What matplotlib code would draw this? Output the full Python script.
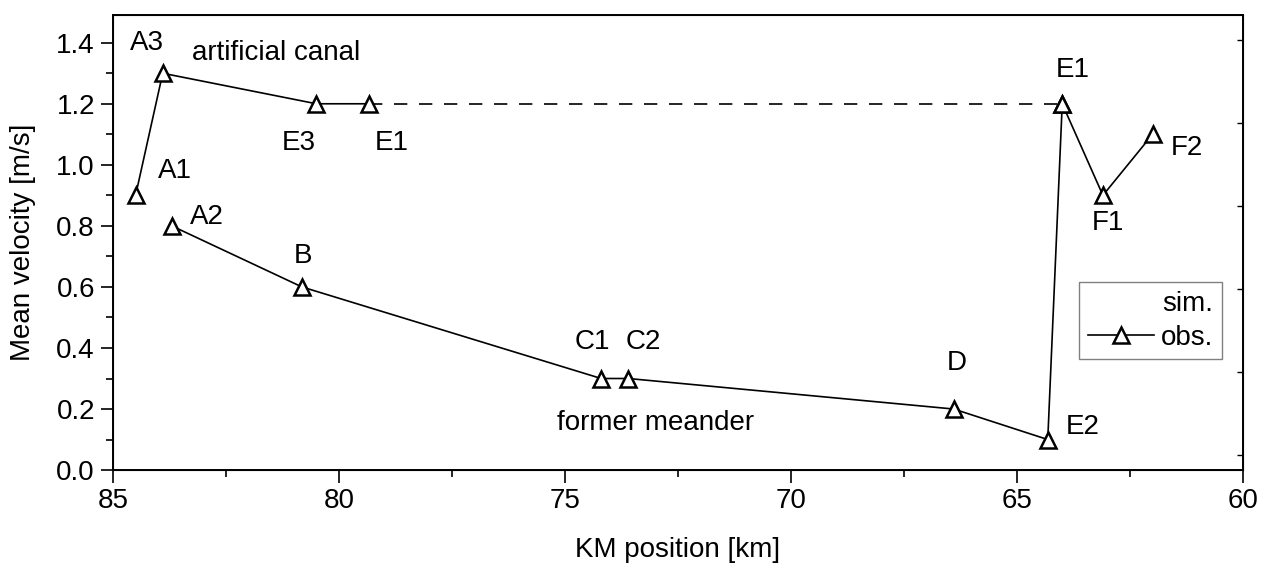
import matplotlib
matplotlib.use("Agg")
import matplotlib.pyplot as plt
from matplotlib.lines import Line2D

plt.rcParams["font.family"] = ["Liberation Sans", "DejaVu Sans"]

# observed stations: upper branch (artificial canal) and lower branch (former meander)
canal_km = [84.5, 83.9, 80.5, 79.33]
canal_v = [0.9, 1.3, 1.2, 1.2]
link_km = [79.33, 64.0]
link_v = [1.2, 1.2]
tail_km = [64.0, 63.1, 62.0]
tail_v = [1.2, 0.9, 1.1]
meander_km = [83.7, 80.82, 74.2, 73.6, 66.4, 64.32, 64.0]
meander_v = [0.8, 0.6, 0.3, 0.3, 0.2, 0.1, 1.2]

station_names = ["A3", "A1", "A2", "B", "E3", "E1", "C1", "C2", "D", "E2", "E1", "F1", "F2"]
station_label_km = [84.25, 83.63, 82.92, 80.8, 80.9, 78.83, 74.4, 73.27, 66.33, 63.54, 63.76, 62.99, 61.24]
station_label_v = [1.40, 0.98, 0.83, 0.70, 1.07, 1.07, 0.42, 0.42, 0.35, 0.14, 1.31, 0.81, 1.055]

x_ticks = [85, 80, 75, 70, 65, 60]
y_ticks = [0.0, 0.2, 0.4, 0.6, 0.8, 1.0, 1.2, 1.4]

FS = 20
fig = plt.figure(figsize=(12.71, 5.65), dpi=100)
ax = fig.add_axes([0.0889, 0.168, 0.8891, 0.805])

line_kw = dict(color="black", lw=1.2, marker="^", ms=11, mfc="white",
               mec="black", mew=1.8)
ax.plot(canal_km, canal_v, **line_kw)
ax.plot(link_km, link_v, color="black", lw=1.2, ls=(0, (8, 7)), zorder=1)
ax.plot(tail_km, tail_v, **line_kw)
ax.plot(meander_km, meander_v, **line_kw)

for name, xk, yv in zip(station_names, station_label_km, station_label_v):
    ax.text(xk, yv, name, fontsize=FS, ha="center", va="center")
ax.text(83.25, 1.367, "artificial canal", fontsize=FS, ha="left", va="center")
ax.text(73.0, 0.154, "former meander", fontsize=FS, ha="center", va="center")

ax.set_xlim(85, 60)
ax.set_ylim(0, 1.49)
ax.set_xticks(x_ticks)
ax.set_xticks([82.5, 77.5, 72.5, 67.5, 62.5], minor=True)
ax.set_yticks(y_ticks)
ax.set_yticklabels([f"{v:.1f}" for v in y_ticks])
ax.set_yticks([0.1, 0.3, 0.5, 0.7, 0.9, 1.1, 1.3], minor=True)
ax.tick_params(which="major", direction="out", length=9, width=1.2, labelsize=FS, pad=4)
ax.tick_params(which="minor", direction="out", length=5, width=1.2)
for s in ax.spines.values():
    s.set_linewidth(1.4)

ax.set_xlabel("KM position [km]", fontsize=FS)
ax.set_ylabel("Mean velocity [m/s]", fontsize=FS)
ax.xaxis.set_label_coords(0.5, -0.148)
ax.yaxis.set_label_coords(-0.068, 0.5)

# small inward ticks on the right frame
rax = ax.twinx()
rax.set_ylim(0, 1)
rax.set_yticks([0.033 + 0.1824 * k for k in range(6)])
rax.tick_params(axis="y", direction="in", length=4, width=1, labelright=False)

handles = [Line2D([], [], color="none"),
           Line2D([], [], **line_kw)]
leg = rax.legend(handles, ["sim.", "obs."], loc="upper left",
                 bbox_to_anchor=(0.855, 0.413), fontsize=FS, frameon=True,
                 fancybox=False, edgecolor="#808080", framealpha=1,
                 handlelength=2.4, handletextpad=0.25, borderpad=0.3,
                 labelspacing=0.3, borderaxespad=0)
leg.get_frame().set_linewidth(1.0)

fig.canvas.draw()
r = fig.canvas.get_renderer()
texts = leg.get_texts()
widths = [t.get_window_extent(r).width for t in texts]
wmax = max(widths)
for t, w in zip(texts, widths):
    t.set_position((wmax - w, 0))

fig.savefig("out.png", dpi=100)
